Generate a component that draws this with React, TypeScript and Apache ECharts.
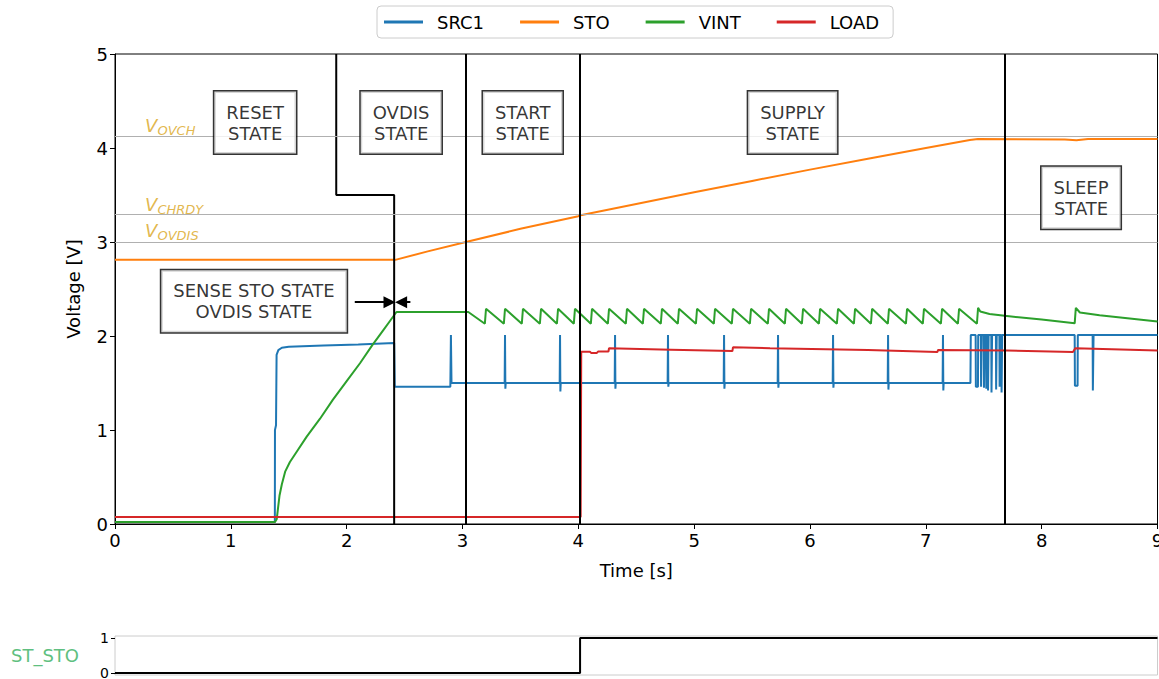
import React, { useEffect, useRef } from "react";
import * as echarts from "echarts";

const SERIES_NAMES = ["SRC1", "STO", "VINT", "LOAD"];
const COLORS = ["#1f77b4", "#ff7f0e", "#2ca02c", "#d62728"];

const SRC1: [number, number][] = [
  [0, 0.02], [1.38, 0.02], [1.381, 1.0], [1.39, 1.05], [1.395, 1.8], [1.41, 1.85], [1.44, 1.875], [1.5, 1.885], [1.8, 1.9], [2.1, 1.91], [2.41, 1.925],
  [2.415, 1.46], [2.895, 1.46], [2.9, 2.01], [2.905, 1.5],
  [3.364, 1.5], [3.367, 2.01], [3.37, 1.44], [3.373, 1.5],
  [3.839, 1.5], [3.842, 2.01], [3.845, 1.41], [3.848, 1.5],
  [4.314, 1.5], [4.317, 2.01], [4.32, 1.44], [4.323, 1.5],
  [4.771, 1.5], [4.774, 2.01], [4.777, 1.46], [4.78, 1.5],
  [5.255, 1.5], [5.258, 2.01], [5.261, 1.44], [5.264, 1.5],
  [5.721, 1.5], [5.724, 2.01], [5.727, 1.45], [5.73, 1.5],
  [6.196, 1.5], [6.199, 2.01], [6.202, 1.45], [6.205, 1.5],
  [6.671, 1.5], [6.674, 2.01], [6.677, 1.43], [6.68, 1.5],
  [7.145, 1.5], [7.148, 2.01], [7.151, 1.42], [7.154, 1.5],
  [7.385, 1.5], [7.388, 2.01], [7.43, 2.01], [7.432, 1.46], [7.45, 1.46], [7.452, 2.01],
  [7.475, 2.01], [7.477, 1.46], [7.48, 1.46], [7.482, 2.01],
  [7.5, 2.01], [7.502, 1.45], [7.505, 1.45], [7.507, 2.01],
  [7.52, 2.01], [7.522, 1.44], [7.525, 1.44], [7.527, 2.01],
  [7.535, 2.01], [7.537, 1.42], [7.54, 1.42], [7.542, 2.01],
  [7.565, 2.01], [7.567, 1.4], [7.57, 1.4], [7.572, 2.01],
  [7.605, 2.01], [7.607, 1.43], [7.61, 1.43], [7.612, 2.01],
  [7.635, 2.01], [7.637, 1.46], [7.64, 1.46], [7.642, 2.01],
  [7.652, 2.01], [7.654, 1.4], [7.657, 1.4], [7.659, 2.01],
  [8.285, 2.01], [8.287, 1.47], [8.31, 1.47], [8.312, 2.01],
  [8.44, 2.01], [8.442, 1.42], [8.446, 1.42], [8.448, 2.01],
  [9, 2.01],
];

const STO: [number, number][] = [
  [0, 2.81], [2.42, 2.81], [2.7, 2.9], [3.03, 3.0], [3.5, 3.14], [4.0, 3.275], [4.02, 3.285], [4.5, 3.405],
  [5.0, 3.53], [5.5, 3.65], [6.0, 3.77], [6.5, 3.885], [7.0, 4.0], [7.38, 4.085], [7.45, 4.095],
  [8.2, 4.09], [8.3, 4.083], [8.4, 4.095], [9, 4.095],
];

const VINT: [number, number][] = [
  [0, 0.02], [1.38, 0.02], [1.396, 0.05], [1.42, 0.3], [1.44, 0.42], [1.47, 0.56], [1.51, 0.66], [1.58, 0.79],
  [1.655, 0.93], [1.77, 1.12], [1.88, 1.32], [2.0, 1.52], [2.115, 1.71], [2.22, 1.9], [2.315, 2.06], [2.38, 2.17],
  [2.43, 2.255], [3.05, 2.255],
  [3.193, 2.13], [3.203, 2.29], [3.357, 2.13], [3.367, 2.29], [3.512, 2.13], [3.522, 2.29], [3.668, 2.13], [3.678, 2.29],
  [3.815, 2.13], [3.825, 2.29], [3.961, 2.13], [3.971, 2.29], [4.108, 2.13], [4.118, 2.29], [4.255, 2.13], [4.265, 2.29],
  [4.41, 2.13], [4.42, 2.29], [4.557, 2.13], [4.567, 2.29], [4.712, 2.13], [4.722, 2.29], [4.859, 2.13], [4.869, 2.29],
  [5.015, 2.13], [5.025, 2.29], [5.17, 2.13], [5.18, 2.29], [5.325, 2.13], [5.335, 2.29], [5.481, 2.13], [5.491, 2.29],
  [5.636, 2.13], [5.646, 2.29], [5.783, 2.13], [5.793, 2.29], [5.93, 2.13], [5.94, 2.29], [6.077, 2.13], [6.087, 2.29],
  [6.232, 2.13], [6.242, 2.29], [6.379, 2.13], [6.389, 2.29], [6.526, 2.13], [6.536, 2.29], [6.672, 2.13], [6.682, 2.29],
  [6.828, 2.13], [6.838, 2.29], [6.974, 2.13], [6.984, 2.29], [7.13, 2.13], [7.14, 2.29], [7.277, 2.13], [7.287, 2.29],
  [7.441, 2.13], [7.451, 2.3], [7.47, 2.26], [7.55, 2.235], [7.68, 2.215], [8.0, 2.175], [8.285, 2.135],
  [8.295, 2.3], [8.33, 2.25], [8.5, 2.22], [8.7, 2.195], [9, 2.155],
];

const LOAD: [number, number][] = [
  [0, 0.074], [4.02, 0.074], [4.025, 1.833], [4.1, 1.833], [4.11, 1.82], [4.16, 1.82], [4.17, 1.835], [4.26, 1.835],
  [4.265, 1.87], [4.8, 1.855], [5.33, 1.84], [5.335, 1.88], [5.655, 1.87], [6.5, 1.85], [7.1, 1.83], [7.105, 1.852],
  [7.7, 1.845], [8.27, 1.83], [8.29, 1.87], [9, 1.845],
];

const ST_STO: [number, number][] = [[0, 0], [4.015, 0], [4.015, 1], [9, 1]];

// state boundary step line and vertical boundaries
const SENSE_STEP: [number, number][] = [[1.91, 5], [1.91, 3.5], [2.41, 3.5], [2.41, 0]];
const BOUNDARIES = [3.03, 4.007, 7.677];

// threshold levels
const THRESHOLDS = [
  { name: "OVCH", v: 4.117 },
  { name: "CHRDY", v: 3.298 },
  { name: "OVDIS", v: 3.0 },
];

const STATES = [
  { text: "RESET\nSTATE", t: 1.21, v: 4.27 },
  { text: "OVDIS\nSTATE", t: 2.47, v: 4.27 },
  { text: "START\nSTATE", t: 3.52, v: 4.27 },
  { text: "SUPPLY\nSTATE", t: 5.85, v: 4.27 },
  { text: "SLEEP\nSTATE", t: 8.34, v: 3.47 },
  { text: "SENSE STO STATE\nOVDIS STATE", t: 1.2, v: 2.37 },
];

const FONT = "DejaVu Sans";
const GOLD = "#daa520";

export default function App() {
  const ref = useRef<HTMLDivElement>(null);
  useEffect(() => {
    if (!ref.current) return;
    const chart = echarts.init(ref.current, null, { renderer: "svg" });
    const lineSeries = [SRC1, STO, VINT, LOAD].map((d, i) => ({
      name: SERIES_NAMES[i],
      type: "line",
      data: d,
      showSymbol: false,
      symbol: "none",
      lineStyle: { color: COLORS[i], width: 2 },
      itemStyle: { color: COLORS[i] },
      z: 3,
      silent: true,
    }));
    const option: any = {
      animation: false,
      textStyle: { fontFamily: FONT },
      legend: {
        data: SERIES_NAMES,
        top: 6,
        left: 377,
        icon: "rect",
        itemWidth: 39,
        itemHeight: 3,
        itemGap: 36,
        padding: [7, 14, 7, 7],
        borderColor: "#cccccc",
        borderWidth: 1,
        borderRadius: 4,
        selectedMode: false,
        textStyle: { fontSize: 18, color: "#000", fontFamily: FONT, padding: [0, 0, 0, 9] },
      },
      grid: [
        { left: 115, right: 1.5, top: 54, bottom: 155, show: true, borderColor: "#000", borderWidth: 1, outerBoundsMode: "none", containLabel: false },
        { left: 115, right: 1.5, top: 636, height: 39, show: true, borderColor: "#cccccc", borderWidth: 1, outerBoundsMode: "none", containLabel: false },
      ],
      xAxis: [
        {
          type: "value", gridIndex: 0, min: 0, max: 9, interval: 1,
          name: "Time [s]", nameLocation: "middle", nameGap: 37,
          nameTextStyle: { fontSize: 18, color: "#000", fontFamily: FONT },
          axisLine: { lineStyle: { color: "#000", width: 1 } },
          axisTick: { length: 5, lineStyle: { color: "#000" } },
          axisLabel: { fontSize: 18, color: "#000", margin: 7, fontFamily: FONT },
          splitLine: { show: false },
        },
        {
          type: "value", gridIndex: 1, min: 0, max: 9,
          axisLine: { show: false }, axisTick: { show: false }, axisLabel: { show: false }, splitLine: { show: false },
        },
      ],
      yAxis: [
        {
          type: "value", gridIndex: 0, min: 0, max: 5, interval: 1,
          name: "Voltage [V]", nameLocation: "middle", nameGap: 33,
          nameTextStyle: { fontSize: 18, color: "#000", fontFamily: FONT },
          axisLine: { show: true, lineStyle: { color: "#000", width: 1 } },
          axisTick: { show: true, length: 5, lineStyle: { color: "#000" } },
          axisLabel: { fontSize: 18, color: "#000", margin: 7, fontFamily: FONT },
          splitLine: { show: false },
        },
        {
          type: "value", gridIndex: 1, min: -0.06, max: 1.06,
          name: "ST_STO", nameLocation: "middle", nameRotate: 0, nameGap: 36,
          nameTextStyle: { fontSize: 18, color: "#5fbf80", fontFamily: FONT, align: "right" },
          axisLine: { show: false },
          axisTick: { show: true, length: 4, lineStyle: { color: "#000" }, customValues: [0, 1] },
          axisLabel: { fontSize: 14, color: "#000", margin: 6, fontFamily: FONT, customValues: [0, 1] },
          splitLine: { show: false },
        },
      ],
      series: [
        {
          name: "thresholds", type: "line", data: [], xAxisIndex: 0, yAxisIndex: 0, z: 1, silent: true,
          markLine: {
            silent: true, symbol: "none", animation: false,
            lineStyle: { color: "#b0b0b0", width: 1, type: "solid" },
            label: { show: false },
            data: THRESHOLDS.map((h) => ({ yAxis: h.v })),
          },
        },
        {
          name: "thresholdLabels", type: "scatter", symbolSize: 0, z: 2, silent: true,
          data: THRESHOLDS.map((h, i) => ({ value: [0.26, h.v + [0.12, 0.1, 0.12][i]], name: h.name })),
          label: {
            show: true, position: [0, 0], align: "left", verticalAlign: "middle",
            formatter: (p: any) => `{a|V}{b|${p.name}}`,
            rich: {
              a: { fontSize: 18, fontStyle: "italic", color: GOLD, fontFamily: FONT },
              b: { fontSize: 13, fontStyle: "italic", color: GOLD, fontFamily: FONT, padding: [9, 0, 0, 0] },
            },
          },
        },
        ...lineSeries,
        {
          name: "senseStep", type: "line", data: SENSE_STEP, showSymbol: false, symbol: "none", z: 4, silent: true,
          lineStyle: { color: "#000", width: 2 },
        },
        {
          name: "boundaries", type: "line", data: [], z: 4, silent: true,
          markLine: {
            silent: true, symbol: "none", animation: false,
            lineStyle: { color: "#000", width: 2, type: "solid" },
            label: { show: false },
            data: BOUNDARIES.map((t) => ({ xAxis: t })),
          },
        },
        {
          name: "arrows", type: "lines", coordinateSystem: "cartesian2d", z: 5, silent: true,
          symbol: ["none", "triangle"], symbolSize: [0, 12],
          lineStyle: { color: "#000", width: 2, opacity: 1 },
          data: [
            { coords: [[2.07, 2.36], [2.37, 2.36]] },
            { coords: [[2.55, 2.36], [2.47, 2.36]] },
          ],
        },
        {
          name: "states", type: "scatter", symbolSize: 0, z: 6, silent: true,
          data: STATES.map((s) => ({ value: [s.t, s.v], name: s.text })),
          label: {
            show: true, position: "inside", formatter: "{b}",
            fontSize: 18, lineHeight: 21, color: "#000", fontFamily: FONT,
            textBorderWidth: 0, textShadowBlur: 0,
            backgroundColor: "#fff", borderColor: "#000", borderWidth: 1.5, padding: [10, 12],
          },
        },
        {
          name: "ST_STO", type: "line", data: ST_STO, xAxisIndex: 1, yAxisIndex: 1, showSymbol: false, symbol: "none",
          lineStyle: { color: "#000", width: 2 }, silent: true,
        },
      ],
    };
    chart.setOption(option);
    return () => chart.dispose();
  }, []);
  return <div ref={ref} style={{ width: 1159, height: 679, position: "absolute", left: 0, top: 0 }} />;
}
